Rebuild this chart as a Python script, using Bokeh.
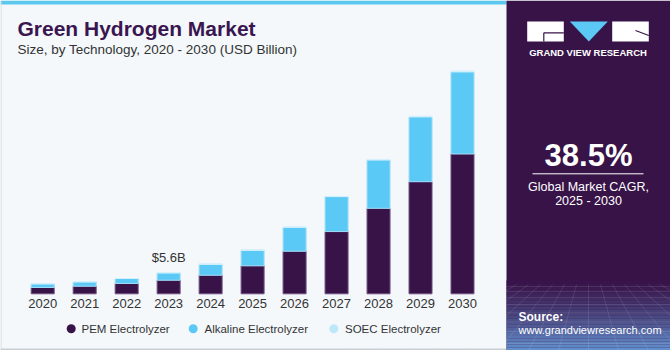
from bokeh.plotting import figure
from bokeh.models import Range1d, ColumnDataSource
from bokeh.core.properties import value
from bokeh.embed import file_html
from bokeh.resources import INLINE

# ---- data (USD Billion) ----
years = [2020, 2021, 2022, 2023, 2024, 2025, 2026, 2027, 2028, 2029, 2030]
year_labels = ["2020", "2021", "2022", "2023", "2024", "2025", "2026", "2027", "2028", "2029", "2030"]
pem = [1.68, 2.03, 2.75, 3.63, 4.96, 7.47, 11.36, 16.6, 22.8, 29.9, 37.3]
alkaline = [0.99, 1.17, 1.33, 1.97, 2.93, 4.16, 6.4, 9.33, 12.9, 17.3, 21.9]
soec = [0.01, 0.01, 0.01, 0.01, 0.02, 0.03, 0.05, 0.08, 0.12, 0.17, 0.24]
series_names = ["PEM Electrolyzer", "Alkaline Electrolyzer", "SOEC Electrolyzer"]
highlight_year = 2023
highlight_text = "$5.6B"

PURPLE = "#381348"
BLUE = "#5bc9f5"
PALE = "#bde8f9"
BG = "#f4f8fb"
colors = [PURPLE, BLUE, PALE]
FONT = value("Liberation Sans")

p = figure(width=670, height=350, output_backend="svg", toolbar_location=None,
           x_range=Range1d(0, 670), y_range=Range1d(350, 0),
           x_axis_type=None, y_axis_type=None, min_border=0,
           background_fill_color=BG, border_fill_color=BG, outline_line_color=None)
p.grid.visible = False

# value scales for the bars
px_per_year = 41.98
x0 = 2020 - 42.2 / px_per_year
p.extra_x_ranges = {"val": Range1d(x0, x0 + 670 / px_per_year)}
s = 5.6 / 21.0
p.extra_y_ranges = {"val": Range1d(-(350 - 293.3) * s, 293.3 * s)}

src = ColumnDataSource(dict(year=years, label=year_labels, pem=pem, alk=alkaline, soec=soec,
                            total=[a + b + c for a, b, c in zip(pem, alkaline, soec)]))

# frame decorations
p.quad(left=0, right=506, top=0, bottom=4, color="#5bc8f0", line_color=None)
p.segment(x0=0.5, y0=0, x1=0.5, y1=350, line_color="#d0d6dc", line_width=1)
p.segment(x0=0, y0=349, x1=506, y1=349, line_color="#c8ced4", line_width=2)

# bars
p.vbar_stack(["pem", "alk", "soec"], x="year", width=0.548, source=src,
             fill_color=colors, line_color=["#6e5080", "#9fdcf7", "#d6f1fb"], line_width=1,
             x_range_name="val", y_range_name="val")

# year labels
p.text(x="year", y=303, text="label", source=src, x_range_name="val",
       text_align="center", text_baseline="middle", text_color="#333333",
       text_font=FONT, text_font_size="13px")

# highlight label
hi = years.index(highlight_year)
p.text(x=[years[hi]], y=[src.data["total"][hi]], text=[highlight_text],
       x_range_name="val", y_range_name="val", y_offset=-15.3,
       text_align="center", text_baseline="middle", text_color="#333333",
       text_font=FONT, text_font_size="13px")

# title
p.text(x=[17], y=[28.2], text=["Green Hydrogen Market"], text_font=FONT,
       text_font_style="bold", text_font_size="21px", text_color="#3a1650", text_baseline="middle")
p.text(x=[17], y=[48.8], text=["Size, by Technology, 2020 - 2030 (USD Billion)"],
       text_font=FONT, text_font_size="13.5px", text_color="#333333", text_baseline="middle")

# legend
p.scatter(x=[70.7, 192.7, 333.3], y=[328.3] * 3, size=9, color=colors, line_color=None)
p.text(x=[81, 204, 344.5], y=[328] * 3, text=series_names,
       text_font=FONT, text_font_size="11.5px", text_color="#333333", text_baseline="middle")

# right panel
p.quad(left=506, right=670, top=0, bottom=350, color=PURPLE, line_color=None)
c0 = (0x38, 0x13, 0x48)
c1 = (0x62, 0x8e, 0xcc)
nb = 24
for i in range(nb):
    t = (i + 1) / nb
    col = "#%02x%02x%02x" % tuple(int(c0[k] + (c1[k] - c0[k]) * t ** 1.3) for k in range(3))
    p.quad(left=506, right=670, top=280 + i * 70 / nb, bottom=280 + (i + 1) * 70 / nb,
           color=col, line_color=None)
# perspective grid
hy = [286, 291, 297, 304, 312, 321, 331, 343]
p.multi_line(xs=[[506, 670]] * len(hy), ys=[[y, y] for y in hy], line_color="white", line_alpha=0.1)
vx = [(588 + (k - 8) * 12, 588 + (k - 8) * 30) for k in range(17)]
p.multi_line(xs=[[a, b] for a, b in vx], ys=[[284, 350]] * len(vx), line_color="white", line_alpha=0.1)

# logo
p.quad(left=[526.7, 611.7], right=[563.3, 648.3], top=[21, 21], bottom=[41, 41],
       color="white", line_color=None)
p.patch(x=[569.3, 607.3, 588.3], y=[21, 21, 41], color="#5bc8f5", line_color=None)
p.segment(x0=[543.3, 543.3, 635], y0=[32.3, 32.3, 30], x1=[563.3, 543.3, 648.3], y1=[32.3, 41, 35],
          line_color=PURPLE, line_width=1.2)
p.text(x=[587.5], y=[51.7], text=["GRAND VIEW RESEARCH"], text_align="center", text_baseline="middle",
       text_font=FONT, text_font_style="bold", text_font_size="9.5px", text_color="white")

p.text(x=[588], y=[154.7], text=["38.5%"], text_align="center", text_baseline="middle",
       text_font=FONT, text_font_style="bold", text_font_size="31px", text_color="white")
p.segment(x0=532, y0=173.3, x1=643, y1=173.3, line_color="white", line_width=1)
p.text(x=[588, 588], y=[186.5, 200.3], text=["Global Market CAGR,", "2025 - 2030"],
       text_align="center", text_baseline="middle",
       text_font=FONT, text_font_size="12.5px", text_color="white")
p.text(x=[518], y=[316.3], text=["Source:"], text_baseline="middle",
       text_font=FONT, text_font_style="bold", text_font_size="12px", text_color="white")
p.text(x=[518], y=[329.3], text=["www.grandviewresearch.com"], text_baseline="middle",
       text_font=FONT, text_font_size="11px", text_color="white")

open("out.html", "w").write(file_html(p, INLINE))
